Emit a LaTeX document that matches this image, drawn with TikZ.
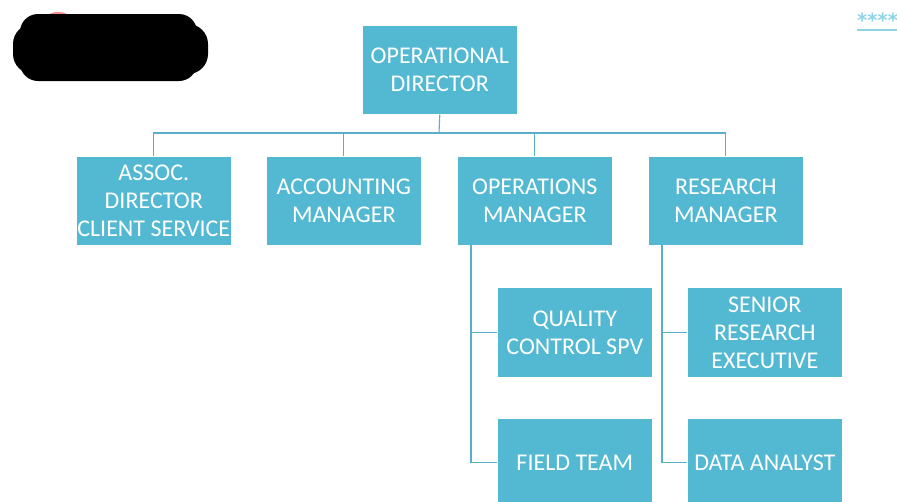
\documentclass[tikz,border=0pt]{standalone}
\usepackage{fontspec}
\setmainfont{Carlito}
\newfontfamily\starfont{DejaVu Sans}
\definecolor{boxblue}{HTML}{53B9D3}
\definecolor{linkblue}{HTML}{5AAFC8}
\definecolor{starblue}{HTML}{8ED3E6}
\begin{document}
\begin{tikzpicture}[x=1pt,y=-1pt,
  orgbox/.style={fill=boxblue,draw=white,line width=0.6pt,minimum width=155pt,minimum height=89pt,
    align=center,text=white,font=\fontsize{24}{28}\selectfont,inner sep=1pt,anchor=north west},
  link/.style={draw=linkblue,line width=1.1pt}]
\useasboundingbox (0,0) rectangle (897,501);
\begin{scope}
\clip (0,0) rectangle (897,501);
% redaction blob
\fill[red!45!white] (58,16) ellipse (10pt and 4pt);
\fill[black,rounded corners=20pt] (13,24) rectangle (208,74);
\fill[black,rounded corners=18pt] (20,14) rectangle (197,81);
\fill[black] (40,16) .. controls (100,12) and (150,18) .. (185,15) -- (185,40) -- (40,40) -- cycle;
% stars
\node[text=starblue,font=\starfont\fontsize{19.5}{14}\selectfont\bfseries,anchor=west,inner sep=0pt] (stars) at (857,20) {****};
\coordinate (ulA) at (857,30);
\coordinate (ulB) at (897,30);
\draw[starblue,line width=2.5pt] (ulA) -- (ulB);
% boxes
\node[orgbox] (od) at (362,25) {OPERATIONAL\\DIRECTOR};
\node[orgbox] (ad) at (76,156) {ASSOC.\\DIRECTOR\\CLIENT SERVICE};
\node[orgbox] (am) at (266,156) {ACCOUNTING\\MANAGER};
\node[orgbox] (om) at (457,156) {OPERATIONS\\MANAGER};
\node[orgbox] (rm) at (648,156) {RESEARCH\\MANAGER};
\node[orgbox,minimum height=90pt] (qc) at (497,287) {QUALITY\\CONTROL SPV};
\node[orgbox,minimum height=90pt] (sre) at (687,287) {SENIOR\\RESEARCH\\EXECUTIVE};
\node[orgbox,minimum height=88pt] (ft) at (497,418) {FIELD TEAM};
\node[orgbox,minimum height=88pt] (da) at (687,418) {DATA ANALYST};
% connectors
\coordinate (bus) at (439,133);
\draw[link] (od.south) -- (bus);
\draw[link] (ad.north) |- (bus) -| (rm.north);
\draw[link] (am.north) -- (am.north |- bus);
\draw[link] (om.north) -- (om.north |- bus);
\coordinate (omx) at (471,245);
\coordinate (rmx) at (662,245);
\draw[link] (omx) |- (qc.west);
\draw[link] (omx) |- (ft.west);
\draw[link] (rmx) |- (sre.west);
\draw[link] (rmx) |- (da.west);
\end{scope}
\end{tikzpicture}
\end{document}
